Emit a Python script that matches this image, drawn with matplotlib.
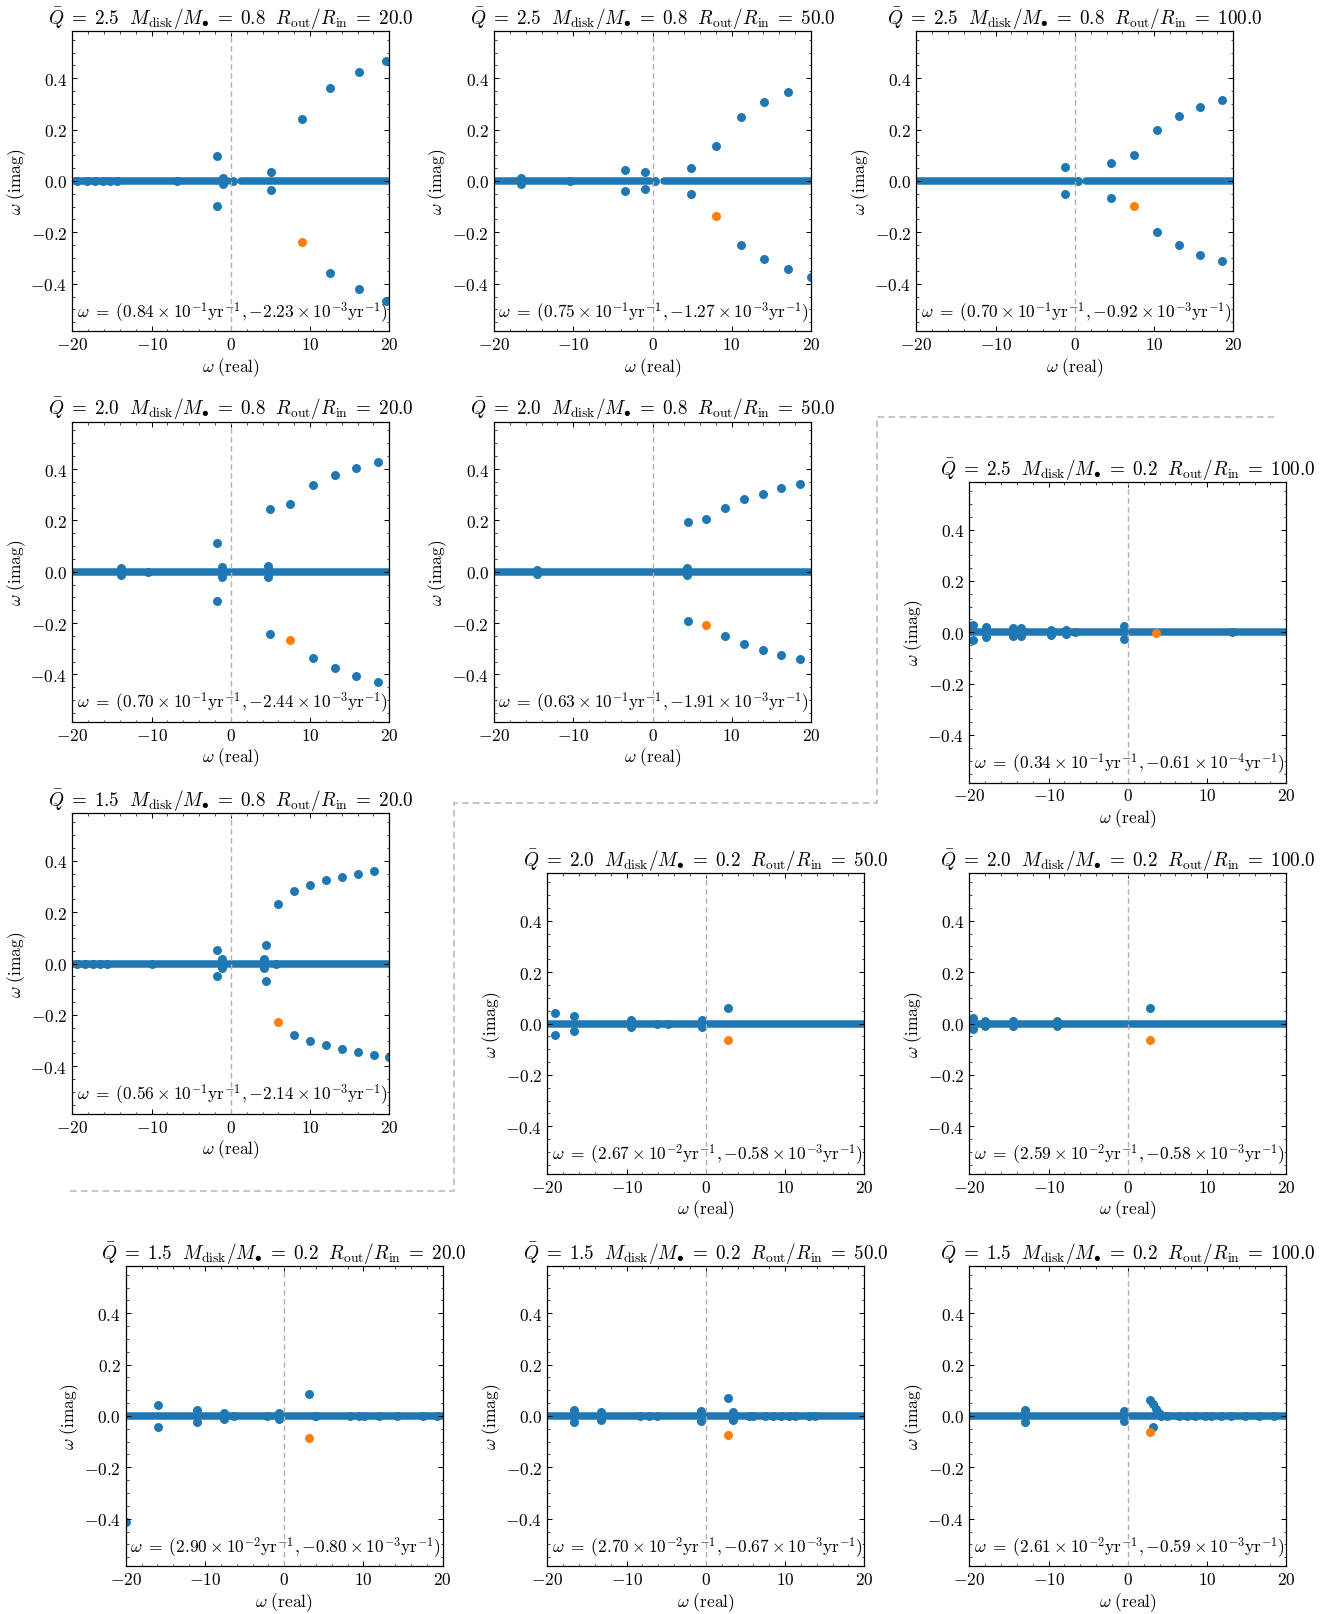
import numpy as np
import matplotlib
matplotlib.use("Agg")
import matplotlib.pyplot as plt
from matplotlib.lines import Line2D

plt.rcParams.update({
    "font.family": "serif",
    "font.serif": ["cmr10"],
    "mathtext.fontset": "cm",
    "axes.formatter.use_mathtext": True,
    "font.size": 12.5,
    "xtick.direction": "in",
    "ytick.direction": "in",
    "xtick.top": True,
    "ytick.right": True,
    "xtick.minor.visible": True,
    "ytick.minor.visible": True,
    "xtick.major.size": 3.5,
    "ytick.major.size": 3.5,
    "xtick.minor.size": 1.8,
    "ytick.minor.size": 1.8,
    "xtick.major.width": 0.7,
    "ytick.major.width": 0.7,
    "xtick.minor.width": 0.5,
    "ytick.minor.width": 0.5,
    "axes.linewidth": 0.9,
})

# run parameters (one entry per panel)
Q_BAR = [2.5, 2.5, 2.5, 2.0, 2.0, 2.5, 1.5, 2.0, 2.0, 1.5, 1.5, 1.5]
M_DISK = [0.8, 0.8, 0.8, 0.8, 0.8, 0.2, 0.8, 0.2, 0.2, 0.2, 0.2, 0.2]
R_RATIO = [20.0, 50.0, 100.0, 20.0, 50.0, 100.0, 20.0, 50.0, 100.0, 20.0, 50.0, 100.0]

# most unstable mode in physical units: mantissa and power of ten
RE_MANT = [0.84, 0.75, 0.70, 0.70, 0.63, 0.34, 0.56, 2.67, 2.59, 2.90, 2.70, 2.61]
RE_EXP = [-1, -1, -1, -1, -1, -1, -1, -2, -2, -2, -2, -2]
IM_MANT = [-2.23, -1.27, -0.92, -2.44, -1.91, -0.61, -2.14, -0.58, -0.58, -0.80, -0.67, -0.59]
IM_EXP = [-3, -3, -3, -3, -3, -4, -3, -3, -3, -3, -3, -3]

# stretches of the real axis covered by the dense continuum
CONTINUUM = [
    [(-20.0, -0.3), (1.3, 20.0)],
    [(-20.0, -0.3), (1.4, 20.0)],
    [(-20.0, 0.0), (1.4, 20.0)],
    [(-20.0, 20.0)],
    [(-20.0, 20.0)],
    [(-20.0, 20.0)],
    [(-20.0, 20.0)],
    [(-20.0, 20.0)],
    [(-20.0, 20.0)],
    [(-20.0, 20.0)],
    [(-20.0, 20.0)],
    [(-20.0, 20.0)],
]

# discrete eigenvalues, real parts
MODE_RE = [
    [-19.37, -18.19, -17.18, -16.09, -15.25, -14.41, -6.84, -1.75, -1.75, -0.95, -0.95, 0.32,
     5.11, 5.11, 8.98, 12.56, 12.56, 16.13, 16.13, 19.58, 19.58],
    [-16.64, -16.64, -10.4, -3.51, -3.51, -0.99, -0.99, 0.36, 4.82, 4.82, 8.01,
     11.12, 11.12, 14.11, 14.11, 17.10, 17.10, 20.05],
    [-1.24, -1.24, 0.44, 4.56, 4.56, 7.51, 10.37, 10.37, 13.10, 13.10, 15.79, 15.79, 18.53, 18.53],
    [-13.9, -13.9, -10.45, -1.79, -1.79, -1.11, -1.11, 4.65, 4.65, 4.90, 4.90, 7.51,
     10.33, 10.33, 13.10, 13.10, 15.84, 15.84, 18.53, 18.53],
    [-14.57, -14.57, 4.31, 4.31, 4.52, 4.52, 6.79, 9.19, 9.19, 11.59, 11.59,
     13.94, 13.94, 16.26, 16.26, 18.57, 18.57],
    [-19.49, -19.49, -17.93, -17.93, -14.44, -14.44, -13.47, -13.47, -9.67, -9.67,
     -7.82, -7.82, -6.6, -0.48, -0.48, 13.17],
    [-19.4, -18.4, -17.4, -16.5, -15.6, -10.0, -1.75, -1.75, -1.07, -1.07, 4.14, 4.14, 4.44, 4.44,
     5.74, 5.95, 7.97, 7.97, 9.99, 9.99, 12.01, 12.01, 14.03, 14.03, 16.0, 16.0,
     18.02, 18.02, 20.0],
    [-19.07, -19.07, -16.59, -16.59, -9.43, -9.43, -6.19, -4.8, -0.46, -0.46, 2.82],
    [-19.58, -19.58, -19.58, -17.97, -17.97, -14.47, -14.47, -8.99, -8.99, 2.83],
    [-20.0, -15.87, -15.87, -11.06, -11.06, -7.61, -7.61, -6.34, -2.22, -0.70, -0.70,
     3.10, 3.86, 4.07, 8.36, 9.4, 10.05, 11.95, 14.2, 17.55, 19.3],
    [-16.59, -16.59, -13.22, -13.22, -8.34, -7.12, -6.15, -0.63, -0.63, 2.86, 3.41, 3.41,
     5.5, 6.0, 7.5, 8.5, 9.5, 10.5, 11.3, 13.0, 13.8],
    [-12.93, -12.93, -0.42, -0.42, 2.74, 3.16, 3.54, 3.92, 3.16, 4.2, 5.0, 6.5, 7.5,
     8.5, 9.8, 10.5, 11.8, 13.0, 14.8, 16.5, 18.5],
]

# discrete eigenvalues, imaginary parts
MODE_IM = [
    [0.0, 0.0, 0.0, 0.0, 0.0, 0.0, 0.0, 0.099, -0.098, 0.012, -0.012, 0.0,
     0.036, -0.036, 0.240, 0.360, -0.358, 0.423, -0.422, 0.466, -0.466],
    [0.01, -0.01, 0.0, 0.042, -0.040, 0.034, -0.031, 0.0, 0.052, -0.051, 0.137,
     0.248, -0.248, 0.306, -0.305, 0.347, -0.344, -0.375],
    [0.055, -0.051, 0.0, 0.069, -0.068, 0.100, 0.199, -0.197, 0.251, -0.250, 0.288, -0.287, 0.315, -0.313],
    [0.013, -0.013, 0.0, 0.113, -0.113, 0.02, -0.02, 0.022, -0.022, 0.243, -0.243, 0.264,
     0.337, -0.337, 0.376, -0.376, 0.405, -0.405, 0.428, -0.428],
    [0.008, -0.008, 0.013, -0.013, 0.193, -0.193, 0.206, 0.249, -0.249, 0.282, -0.282,
     0.303, -0.303, 0.325, -0.325, 0.340, -0.340],
    [0.03, -0.03, 0.019, -0.019, 0.016, -0.016, 0.016, -0.016, 0.01, -0.01,
     0.007, -0.007, 0.0, 0.026, -0.026, 0.0],
    [0.0, 0.0, 0.0, 0.0, 0.0, 0.0, 0.053, -0.049, 0.018, -0.018, 0.018, -0.018, 0.071, -0.068,
     0.0, 0.231, 0.282, -0.278, 0.306, -0.303, 0.325, -0.319, 0.338, -0.334, 0.349, -0.345,
     0.360, -0.356, -0.365],
    [0.041, -0.043, 0.030, -0.030, 0.012, -0.012, 0.0, 0.0, 0.012, -0.012, 0.060],
    [0.02, 0.0, -0.02, 0.01, -0.01, 0.01, -0.01, 0.01, -0.01, 0.060],
    [-0.412, 0.041, -0.042, 0.022, -0.022, 0.012, -0.012, 0.0, 0.0, 0.012, -0.012,
     0.085, 0.0, 0.0, 0.0, 0.0, 0.0, 0.0, 0.0, 0.0, 0.0],
    [0.024, -0.024, 0.016, -0.016, 0.0, 0.0, 0.0, 0.019, -0.019, 0.071, 0.017, -0.017,
     0.0, 0.0, 0.0, 0.0, 0.0, 0.0, 0.0, 0.0, 0.0],
    [0.024, -0.024, 0.018, -0.018, 0.064, 0.047, 0.027, 0.010, -0.044, 0.0, 0.0, 0.0, 0.0,
     0.0, 0.0, 0.0, 0.0, 0.0, 0.0, 0.0, 0.0],
]

# fastest growing mode of each run
UNSTABLE_RE = [8.98, 8.01, 7.51, 7.51, 6.79, 3.60, 5.95, 2.82, 2.83, 3.10, 2.86, 2.82]
UNSTABLE_IM = [-0.238, -0.136, -0.099, -0.264, -0.206, -0.004, -0.226, -0.064, -0.064, -0.086, -0.073, -0.064]

# figure layout in pixels: (left, top) of every panel
W_PX, H_PX = 1336, 1615
AX_W, AX_H = 317, 300.5
PANEL_POS = [
    (72.3, 31.7), (494, 31.7), (916.3, 31.7),
    (72.3, 422.5), (494, 422.5), (969.3, 483),
    (72.3, 814.3), (547.3, 874.3), (969.3, 874.3),
    (125.7, 1266.7), (547.3, 1266.7), (969.3, 1266.7),
]
# staircase separating the panel groups
SEP_X = [70, 454, 454, 877, 877, 1274]
SEP_Y = [1192, 1192, 804, 804, 418, 418]

DOT_S = 42
BAND_LW = 5.4

fig = plt.figure(figsize=(W_PX / 100, H_PX / 100), dpi=100)

for i, (left, top) in enumerate(PANEL_POS):
    ax = fig.add_axes([left / W_PX, 1 - (top + AX_H) / H_PX, AX_W / W_PX, AX_H / H_PX])

    for x0, x1 in CONTINUUM[i]:
        ax.plot([x0, x1], [0, 0], color="#1f77b4", lw=BAND_LW, solid_capstyle="round", zorder=1)
    ax.scatter(MODE_RE[i], MODE_IM[i], s=DOT_S, color="#1f77b4", linewidths=0, zorder=1.5)
    ax.scatter([UNSTABLE_RE[i]], [UNSTABLE_IM[i]], s=DOT_S, color="#ff7f0e", linewidths=0, zorder=2)
    ax.axvline(0, color="#b0b0b0", ls=(0, (4, 2.5)), lw=1.0, zorder=2.5)

    ax.set_xlim(-20, 20)
    ax.set_ylim(-0.585, 0.585)
    ax.set_xticks([-20, -10, 0, 10, 20])
    ax.set_yticks([-0.4, -0.2, 0.0, 0.2, 0.4])
    ax.set_xlabel(r"$\omega\ (\mathrm{real})$", labelpad=2)
    ax.set_ylabel(r"$\omega\ (\mathrm{imag})$", labelpad=2)
    ax.set_title(r"$\bar{Q}\;=\;%.1f\ \ M_{\rm disk}/M_{\bullet}\;=\;%.1f\ \ R_{\rm out}/R_{\rm in}\;=\;%.1f$"
                 % (Q_BAR[i], M_DISK[i], R_RATIO[i]), fontsize=13.8, pad=5)

    label = (r"$\omega\;=\;(%.2f\times10^{%d}{\rm yr}^{-1},{-}%.2f\times10^{%d}{\rm yr}^{-1})$"
             % (RE_MANT[i], RE_EXP[i], abs(IM_MANT[i]), IM_EXP[i]))
    ax.text(0.995, 0.025, label, transform=ax.transAxes, ha="right", va="bottom", zorder=5)

sep = Line2D([x / W_PX for x in SEP_X], [1 - y / H_PX for y in SEP_Y],
             transform=fig.transFigure, color="#bbbbbb", lw=1.2, ls=(0, (4, 2.5)))
fig.add_artist(sep)

fig.savefig("out.png", dpi=100)
